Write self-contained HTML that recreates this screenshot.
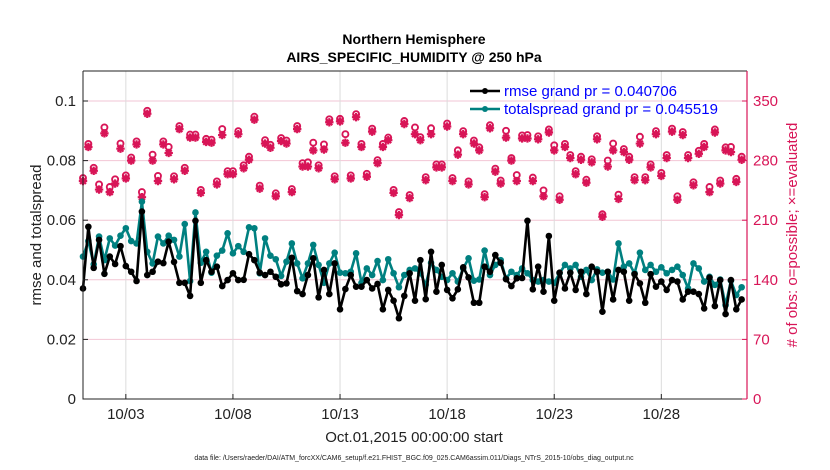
<!DOCTYPE html>
<html><head><meta charset="utf-8"><style>
body{margin:0;background:#fff;}
svg{display:block;font-family:"Liberation Sans",Arial,sans-serif;}
</style></head><body>
<svg id="chart" width="830" height="470" viewBox="0 0 830 470" xmlns="http://www.w3.org/2000/svg">
<rect width="830" height="470" fill="#fff"/>
<text x="414" y="44" text-anchor="middle" font-size="14" font-weight="bold">Northern Hemisphere</text>
<text x="414" y="62" text-anchor="middle" font-size="14" font-weight="bold">AIRS_SPECIFIC_HUMIDITY @ 250 hPa</text>
<g id="grid"></g>
<g id="marks"></g>
<g id="axes"></g>
<text transform="translate(41,235) rotate(-90)" text-anchor="middle" font-size="15" fill="#222">rmse and totalspread</text>
<text transform="translate(797,235) rotate(-90)" text-anchor="middle" font-size="15" fill="#d81557">#  of obs: o=possible; ×=evaluated</text>
<text x="414" y="442" text-anchor="middle" font-size="15" fill="#222">Oct.01,2015 00:00:00 start</text>
<text x="414" y="460" text-anchor="middle" font-size="7" fill="#222">data file: /Users/raeder/DAI/ATM_forcXX/CAM6_setup/f.e21.FHIST_BGC.f09_025.CAM6assim.011/Diags_NTrS_2015-10/obs_diag_output.nc</text>
<g>
<line x1="470" y1="91" x2="500" y2="91" stroke="#000" stroke-width="2.5"/><circle cx="485" cy="91" r="3" fill="#000"/>
<text x="504" y="96" font-size="15" fill="#0000ff">rmse grand pr = 0.040706</text>
<line x1="470" y1="109" x2="500" y2="109" stroke="#008080" stroke-width="2.5"/><circle cx="485" cy="109" r="3" fill="#008080"/>
<text x="504" y="114" font-size="15" fill="#0000ff">totalspread grand pr = 0.045519</text>
</g>
</svg>
<script>
const rmse = [.0371,.0578,.044,.0534,.042,.0478,.0453,.0513,.0446,.0427,.0396,.0629,.0416,.0427,.0461,.0456,.0528,.046,.039,.039,.0346,.0598,.039,.0466,.0427,.0444,.0379,.0399,.0422,.0399,.04,.0486,.0466,.0424,.0416,.0427,.041,.0385,.0388,.0474,.0362,.0352,
.0416,.0472,.0341,.0433,.0352,.0455,.0301,.0369,.0416,.0377,.0377,.0399,.0371,.0386,.0301,.0366,.033,.0271,.0346,.0422,.033,.0466,.0335,.0494,.036,.045,.0366,.0338,.0368,.0442,.0408,.0323,.0323,.0444,.0427,.0483,.0457,.0402,.0379,.0405,.0406,
.0598,.0368,.0444,.036,.0547,.033,.0424,.0371,.0424,.0366,.0427,.0352,.0444,.0427,.0293,.0427,.0334,.0433,.0427,.033,.0419,.0388,.0323,.0419,.0377,.0394,.0366,.0399,.0394,.0334,.036,.036,.0352,.0304,.0407,.0312,.0399,.0285,.0399,.0301,.0334];
const spread = [.0478,.053,.0452,.0545,.0466,.0539,.0515,.0548,.0573,.053,.0522,.0662,.0494,.0455,.0545,.0522,.0548,.0534,.0478,.0587,.0396,.0626,.0457,.0494,.0424,.0481,.0498,.0556,.0489,.0513,.0494,.0576,.0573,.0422,.0539,.0481,.0469,.0413,.0461,.0522,.0455,.0405,
.0455,.0517,.045,.039,.0455,.0491,.0424,.0422,.0427,.0489,.039,.0438,.0416,.0463,.0399,.0469,.0422,.0375,.0416,.0433,.0438,.0422,.0383,.0457,.0433,.041,.0399,.0422,.0394,.0438,.0472,.0397,.0401,.0498,.0416,.045,.0466,.0405,.0427,.0416,.0438,
.0422,.0399,.0394,.0399,.0394,.039,.0422,.045,.0438,.045,.041,.0433,.0399,.0435,.0424,.0427,.0401,.0522,.0444,.0455,.0422,.0491,.0433,.045,.0427,.0442,.0422,.0433,.0444,.0416,.0371,.0455,.0438,.0394,.041,.0383,.0401,.0315,.0397,.0349,.0375];
const evaluated = [256,296,268,246,312,243,253,294,259,280,299,237,335,280,256,299,289,258,317,268,307,307,242,302,301,252,310,264,264,311,271,281,328,247,300,295,238,303,300,243,317,273,
273,292,271,293,325,258,326,301,259,331,296,261,314,277,296,304,242,216,323,236,311,304,257,311,272,272,320,256,287,311,252,300,292,237,318,267,253,307,280,256,306,
306,256,305,238,313,292,234,296,283,264,281,254,278,305,214,273,292,235,290,281,257,300,257,272,311,262,283,314,234,310,283,251,288,296,243,313,253,292,290,255,281];
const possibleIdx = [3,4,5,6,7,11,13,14,16,26,34,41,42,43,45,48,49,57,62,65,70,79,80,81,83,84,86,88,89,97,98,99,100,104,111,117,121];
const possibleVal = [252,319,249,258,300,243,287,262,296,317,304,277,278,301,299,329,311,307,319,318,292,315,283,263,310,260,245,298,238,217,280,300,240,308,238,249,296];
const yTicksLeft = [0,0.02,0.04,0.06,0.08,0.1];
const yTickLabelsLeft = ["0","0.02","0.04","0.06","0.08","0.1"];
const yTicksRight = [0,70,140,210,280,350];
const xTickDays = [2,7,12,17,22,27];
const xTickLabels = ["10/03","10/08","10/13","10/18","10/23","10/28"];

const X0=83,X1=747,Y0=399,YT=71;
const xs = d => X0 + d*(X1-X0)/31;
const yl = v => Y0 - v*(Y0-101)/0.1;
const yr = v => Y0 - v*(Y0-101)/350;
const NS="http://www.w3.org/2000/svg";
function mk(tag, attrs, parent){const e=document.createElementNS(NS,tag);for(const k in attrs)e.setAttribute(k,attrs[k]);parent.appendChild(e);return e;}
const grid=document.getElementById('grid'), marks=document.getElementById('marks'), axes=document.getElementById('axes');
const PINK="#d81557";
yTicksLeft.forEach((t,i)=>{ if(i>0){const l=mk('line',{x1:X0,x2:X1,y1:yl(t),y2:yl(t),stroke:'#f2c6d4','stroke-width':1},grid);

}});
xTickDays.forEach(d=>{const l=mk('line',{x1:xs(d),x2:xs(d),y1:YT,y2:Y0,stroke:'#dcdcdc','stroke-width':1},grid);

});
const pt=i=>0.25*i;
evaluated.forEach((v,i)=>{const g=mk('g',{},marks);


const x=xs(pt(i)),y=yr(v),s=4.2;
mk('path',{d:`M${x-s},${y}H${x+s}M${x},${y-s}V${y+s}M${x-s*0.7},${y-s*0.7}L${x+s*0.7},${y+s*0.7}M${x-s*0.7},${y+s*0.7}L${x+s*0.7},${y-s*0.7}`,stroke:PINK,'stroke-width':2.2},g);
let pv=v;const k=possibleIdx.indexOf(i);if(k>=0)pv=possibleVal[k];
const c=mk('circle',{cx:x,cy:yr(pv)-(k>=0?0:3),r:3,fill:'none',stroke:PINK,'stroke-width':1.9},marks);

});
function series(arr,color,name){
const p=mk('polyline',{points:arr.map((v,i)=>xs(pt(i))+','+yl(v)).join(' '),fill:'none',stroke:color,'stroke-width':2.6,'stroke-linejoin':'round'},marks);


arr.forEach((v,i)=>{const c=mk('circle',{cx:xs(pt(i)),cy:yl(v),r:3.3,fill:color},marks);

});}
series(spread,'#008080','totalspread');
series(rmse,'#000000','rmse');
mk('path',{d:`M${X0},${YT}H${X1}M${X0},${YT}V${Y0}H${X1}`,stroke:'#222',fill:'none','stroke-width':1},axes);
mk('line',{x1:X1,x2:X1,y1:YT,y2:Y0,stroke:PINK,'stroke-width':1.2},axes);
yTicksLeft.forEach((t,i)=>{mk('line',{x1:X0,x2:X0+5,y1:yl(t),y2:yl(t),stroke:'#222'},axes);
const tx=mk('text',{x:X0-7,y:yl(t)+5,'text-anchor':'end','font-size':15,fill:'#222'},axes);tx.textContent=yTickLabelsLeft[i];

});
yTicksRight.forEach(t=>{mk('line',{x1:X1-5,x2:X1,y1:yr(t),y2:yr(t),stroke:PINK},axes);
const tx=mk('text',{x:X1+6,y:yr(t)+5,'font-size':15,fill:PINK},axes);tx.textContent=String(t);

});
xTickDays.forEach((d,i)=>{mk('line',{x1:xs(d),x2:xs(d),y1:Y0,y2:Y0-5,stroke:'#222'},axes);
const tx=mk('text',{x:xs(d),y:Y0+20,'text-anchor':'middle','font-size':15,fill:'#222'},axes);tx.textContent=xTickLabels[i];

});
</script>
</body></html>
